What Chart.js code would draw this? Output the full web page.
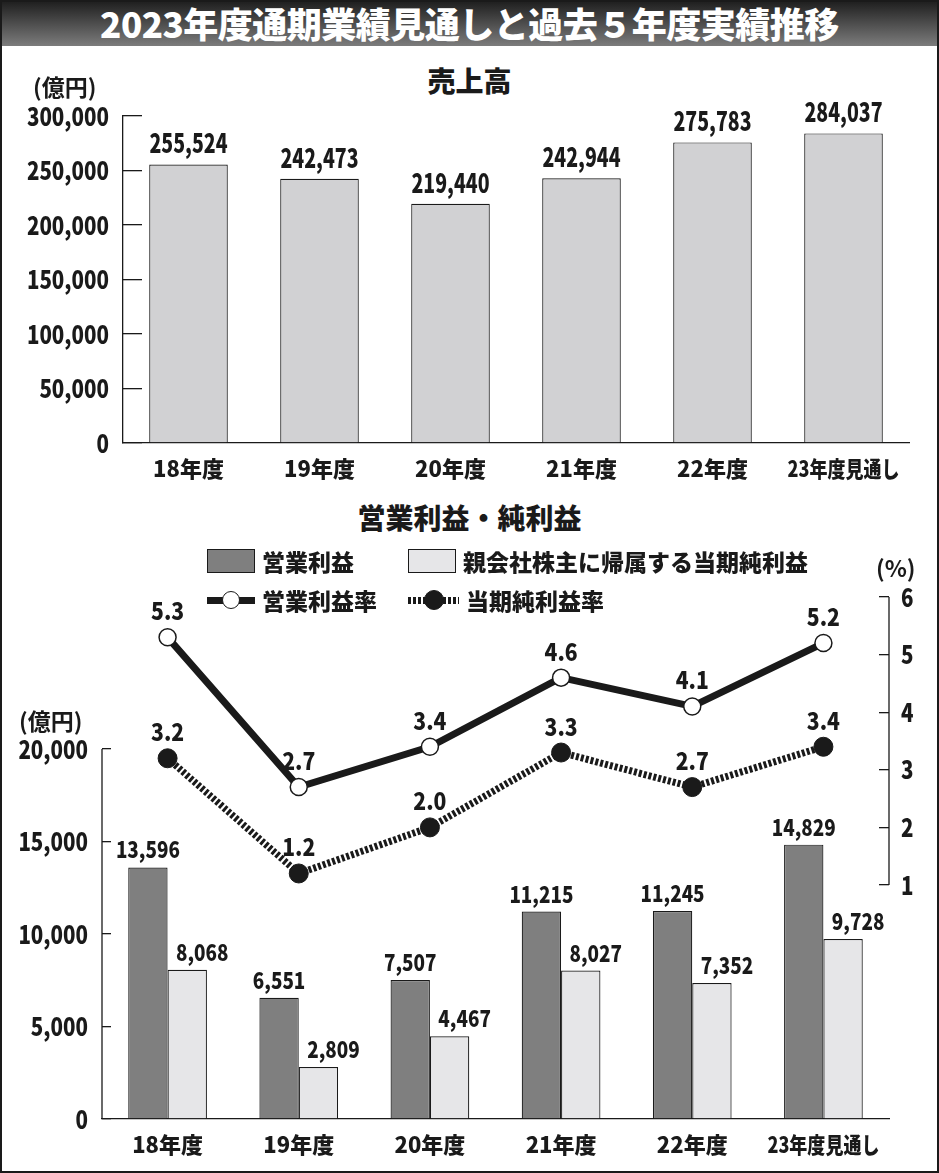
<!DOCTYPE html>
<html lang="ja">
<head>
<meta charset="utf-8">
<title>2023年度通期業績見通しと過去５年度実績推移</title>
<script src="https://cdn.jsdelivr.net/npm/chart.js@4.4.1/dist/chart.umd.min.js"></script>
<style>
  html, body { margin: 0; padding: 0; background: #fff; }
  #page { position: relative; width: 939px; height: 1173px; overflow: hidden; background: #fff;
          font-family: 'Noto Sans CJK JP', sans-serif; color: #1a1a1a; }
  #frame { position: absolute; left: 0; top: 0; right: 0; bottom: 0; border: 2px solid #1a1a1a;
           pointer-events: none; z-index: 5; }
  #titleBar { position: absolute; left: 0; top: 0; width: 939px; height: 46px;
              background: linear-gradient(#1c1c1c, #7c7c7c); color: #fff; text-align: center;
              font-size: 35px; font-weight: 900; line-height: 46px; letter-spacing: -0.5px; z-index: 2; }
  .heading { position: absolute; left: 0; width: 939px; text-align: center; font-size: 28px;
             font-weight: 900; line-height: 1; z-index: 2; }
  .unit { position: absolute; font-size: 23px; font-weight: 700; line-height: 1; z-index: 2; }
  .legend-item { position: absolute; height: 24px; display: flex; align-items: center; font-size: 23px;
                 font-weight: 900; white-space: nowrap; z-index: 2; }
  .swatch { box-sizing: border-box; width: 48px; height: 24px; border: 1.2px solid #1a1a1a; margin-right: 7px; }
  .swatch.dark { background: #7f7f7f; }
  .swatch.light { background: #e6e6e8; }
  .lineIcon { position: relative; width: 48px; height: 24px; margin-right: 7px; }
  .lineIcon .stroke { position: absolute; left: 0; right: 0; top: 8.5px; height: 7px; background: #1a1a1a; }
  .lineIcon.dotted { width: 51px; }
  .lineIcon.dotted .stroke { background: repeating-linear-gradient(90deg, #1a1a1a 0 3px, transparent 3px 5px); }
  .lineIcon .dot { position: absolute; box-sizing: border-box; left: 50%; top: 50%; width: 18px; height: 18px;
                   margin: -9px 0 0 -9px; border-radius: 50%; border: 1.5px solid #1a1a1a; background: #fff; }
  .lineIcon.dotted .dot { background: #1a1a1a; width: 20px; height: 20px; margin: -10px 0 0 -10px; }
  canvas { position: absolute; left: 0; z-index: 1; }
</style>
</head>
<body>
<div id="page">
  <div id="titleBar">2023年度通期業績見通しと過去５年度実績推移</div>

  <div class="heading" style="top:66px">売上高</div>
  <div class="unit" style="left:33px;top:75px">(億円)</div>
  <canvas id="salesChart" width="939" height="390" style="top:100px"></canvas>

  <div class="heading" style="top:503px">営業利益・純利益</div>
  <div class="legend-item" style="left:207px;top:549px"><span class="swatch dark"></span>営業利益</div>
  <div class="legend-item" style="left:408px;top:549px"><span class="swatch light"></span>親会社株主に帰属する当期純利益</div>
  <div class="legend-item" style="left:207px;top:588px"><span class="lineIcon"><span class="stroke"></span><span class="dot"></span></span>営業利益率</div>
  <div class="legend-item" style="left:408px;top:588px"><span class="lineIcon dotted"><span class="stroke"></span><span class="dot"></span></span>当期純利益率</div>
  <div class="unit" style="left:876px;top:556px">(%)</div>
  <div class="unit" style="left:19px;top:709px">(億円)</div>
  <canvas id="profitChart" width="939" height="600" style="top:570px"></canvas>

  <div id="frame"></div>
</div>

<script>
// ---- data ----
const years = ['18年度', '19年度', '20年度', '21年度', '22年度', '23年度見通し'];
const salesValues = [255524, 242473, 219440, 242944, 275783, 284037];
const salesTicks = [0, 50000, 100000, 150000, 200000, 250000, 300000];

const opProfit = [13596, 6551, 7507, 11215, 11245, 14829];
const netProfit = [8068, 2809, 4467, 8027, 7352, 9728];
const profitTicks = [0, 5000, 10000, 15000, 20000];

const opMargin = [5.3, 2.7, 3.4, 4.6, 4.1, 5.2];
const netMargin = [3.2, 1.2, 2.0, 3.3, 2.7, 3.4];
const marginTicks = [1, 2, 3, 4, 5, 6];

// ---- look ----
const INK = '#1a1a1a';
const HIDDEN = 'rgba(0,0,0,0)';
const JP_FONT = "'Noto Sans CJK JP', sans-serif";
const NUM_FONT = JP_FONT;

// lower chart: yen axis only goes up to 20,000, % axis sits in the upper part
// (area is 522px tall, 20,000 sits 370px up, 1%..6% spans 288px ending 234px above the base)
const PROFIT_MAX = 20000 * 522 / 370;
const RATE_MIN = 1 - 234 / (288 / 5);

const fmtYen = v => Number(v).toLocaleString('en-US');

// squeeze text horizontally around its anchor (the paper uses a condensed face)
function drawNarrow(ctx, text, x, y, squeeze) {
    ctx.save();
    ctx.translate(x, y);
    ctx.scale(squeeze, 1);
    ctx.fillText(text, 0, 0);
    ctx.restore();
}

/**
 * Draws the value above every bar / point of datasets that carry a valueLabel setting
 */
const valueLabels = {
    id: 'valueLabels',
    afterDatasetsDraw(chart) {
        const ctx = chart.ctx;
        chart.data.datasets.forEach((ds, i) => {
            const lab = ds.valueLabel;
            if (!lab) return;
            const meta = chart.getDatasetMeta(i);
            ctx.save();
            ctx.font = lab.font;
            ctx.fillStyle = INK;
            ctx.textAlign = 'center';
            ctx.textBaseline = 'alphabetic';
            meta.data.forEach((el, j) => {
                drawNarrow(ctx, lab.format(ds.data[j]), el.x + (lab.dx || 0), el.y - lab.gap, lab.squeeze);
            });
            ctx.restore();
        });
    }
};

/**
 * Re-draws tick labels (left invisible by Chart.js) in a narrow face,
 * long labels are squeezed further to fit maxWidth
 */
const narrowTicks = {
    id: 'narrowTicks',
    afterDraw(chart, args, opts) {
        const ctx = chart.ctx;
        (opts.scales || []).forEach(cfg => {
            const scale = chart.scales[cfg.id];
            scale.getLabelItems().forEach(item => {
                const o = item.options;
                ctx.save();
                ctx.font = item.font.string;
                ctx.fillStyle = INK;
                ctx.textAlign = o.textAlign;
                ctx.textBaseline = o.textBaseline;
                let squeeze = cfg.squeeze;
                if (cfg.maxWidth) {
                    squeeze = Math.min(squeeze, cfg.maxWidth / ctx.measureText(item.label).width);
                }
                drawNarrow(ctx, item.label, o.translation[0], o.translation[1] + (item.textOffset || 0), squeeze);
                ctx.restore();
            });
        });
    }
};

/**
 * Axis lines that only cover part of a scale
 */
const axisSpans = {
    id: 'axisSpans',
    afterDraw(chart, args, opts) {
        const ctx = chart.ctx;
        (opts.spans || []).forEach(s => {
            const scale = chart.scales[s.id];
            const x = s.side === 'left' ? scale.right : scale.left;
            ctx.save();
            ctx.strokeStyle = INK;
            ctx.lineWidth = 1.3;
            ctx.beginPath();
            ctx.moveTo(x, scale.getPixelForValue(s.from));
            ctx.lineTo(x, scale.getPixelForValue(s.to));
            ctx.stroke();
            ctx.restore();
        });
    }
};

// keep the plot area where the layout wants it: no extra room for tick label overhang
function fixWidth(w) {
    return s => { s.width = w; s.paddingTop = 0; s.paddingBottom = 0; };
}
function fixHeight(h) {
    return s => { s.height = h; s.paddingLeft = 0; s.paddingRight = 0; };
}

const xTicks = {
    color: HIDDEN, padding: 12, maxRotation: 0, minRotation: 0, autoSkip: false,
    font: { family: JP_FONT, size: 22, weight: '900' }
};
const yTickFont = { family: NUM_FONT, size: 25, weight: '900' };

function initializeSalesChart() {
    const ctx = document.getElementById('salesChart');
    new Chart(ctx, {
        type: 'bar',
        data: {
            labels: years,
            datasets: [{
                label: '売上高',
                data: salesValues,
                backgroundColor: '#d1d1d3',
                borderColor: INK,
                borderWidth: 1.2,
                barPercentage: 0.6,
                categoryPercentage: 1,
                valueLabel: { font: `900 26px ${NUM_FONT}`, gap: 11, squeeze: 0.75, format: fmtYen }
            }]
        },
        options: {
            responsive: false,
            animation: false,
            layout: { padding: { top: 16, right: 30, left: 0, bottom: 0 } },
            plugins: {
                legend: { display: false },
                tooltip: { enabled: false },
                narrowTicks: { scales: [{ id: 'y', squeeze: 0.82 }, { id: 'x', squeeze: 1, maxWidth: 112 }] }
            },
            scales: {
                x: {
                    grid: { display: false, drawTicks: false },
                    border: { color: INK, width: 1.3 },
                    ticks: xTicks,
                    afterFit: fixHeight(47)
                },
                y: {
                    min: 0,
                    max: 300000,
                    afterBuildTicks: s => { s.ticks = salesTicks.map(v => ({ value: v })); },
                    grid: { drawOnChartArea: false, color: INK, lineWidth: 1.3, tickLength: -19 },
                    border: { color: INK, width: 1.3 },
                    ticks: { color: HIDDEN, padding: 33, font: yTickFont, callback: fmtYen },
                    afterFit: fixWidth(123)
                }
            }
        },
        plugins: [valueLabels, narrowTicks]
    });
}

function initializeProfitChart() {
    const ctx = document.getElementById('profitChart');
    new Chart(ctx, {
        type: 'bar',
        data: {
            labels: years,
            datasets: [
                {
                    type: 'line',
                    label: '営業利益率',
                    data: opMargin,
                    yAxisID: 'yRate',
                    order: 0,
                    borderColor: INK,
                    borderWidth: 7,
                    tension: 0,
                    pointRadius: 8.5,
                    pointBackgroundColor: '#fff',
                    pointBorderColor: INK,
                    pointBorderWidth: 1.5,
                    clip: false,
                    valueLabel: { font: `900 24px ${NUM_FONT}`, gap: 17, squeeze: 0.88, format: v => v.toFixed(1) }
                },
                {
                    type: 'line',
                    label: '当期純利益率',
                    data: netMargin,
                    yAxisID: 'yRate',
                    order: 0,
                    borderColor: INK,
                    borderWidth: 7,
                    borderDash: [3, 2],
                    tension: 0,
                    pointRadius: 9.5,
                    pointBackgroundColor: INK,
                    pointBorderColor: INK,
                    pointBorderWidth: 1,
                    clip: false,
                    valueLabel: { font: `900 24px ${NUM_FONT}`, gap: 17, squeeze: 0.88, format: v => v.toFixed(1) }
                },
                {
                    label: '営業利益',
                    data: opProfit,
                    yAxisID: 'yYen',
                    order: 1,
                    backgroundColor: '#7f7f7f',
                    borderColor: INK,
                    borderWidth: 1.2,
                    barPercentage: 1,
                    categoryPercentage: 0.6,
                    valueLabel: { font: `900 23px ${NUM_FONT}`, gap: 9, squeeze: 0.82, format: fmtYen }
                },
                {
                    label: '親会社株主に帰属する当期純利益',
                    data: netProfit,
                    yAxisID: 'yYen',
                    order: 1,
                    backgroundColor: '#e6e6e8',
                    borderColor: INK,
                    borderWidth: 1.2,
                    barPercentage: 1,
                    categoryPercentage: 0.6,
                    valueLabel: { font: `900 23px ${NUM_FONT}`, gap: 9, dx: 15, squeeze: 0.82, format: fmtYen }
                }
            ]
        },
        options: {
            responsive: false,
            animation: false,
            layout: { padding: { top: 27, right: 0, left: 0, bottom: 0 } },
            plugins: {
                legend: { display: false },
                tooltip: { enabled: false },
                narrowTicks: {
                    scales: [
                        { id: 'yYen', squeeze: 0.82 },
                        { id: 'yRate', squeeze: 0.82 },
                        { id: 'x', squeeze: 1, maxWidth: 112 }
                    ]
                },
                axisSpans: {
                    spans: [
                        { id: 'yYen', side: 'left', from: 0, to: 20000 },
                        { id: 'yRate', side: 'right', from: 1, to: 6 }
                    ]
                }
            },
            scales: {
                x: {
                    grid: { display: false, drawTicks: false },
                    border: { color: INK, width: 1.3 },
                    ticks: xTicks,
                    afterFit: fixHeight(51)
                },
                yYen: {
                    position: 'left',
                    min: 0,
                    max: PROFIT_MAX,
                    afterBuildTicks: s => { s.ticks = profitTicks.map(v => ({ value: v })); },
                    grid: { drawOnChartArea: false, color: INK, lineWidth: 1.3, tickLength: -9 },
                    border: { display: false },
                    ticks: { color: HIDDEN, padding: 23, font: yTickFont, callback: fmtYen },
                    afterFit: fixWidth(102)
                },
                yRate: {
                    position: 'right',
                    min: RATE_MIN,
                    max: 6,
                    afterBuildTicks: s => { s.ticks = marginTicks.map(v => ({ value: v })); },
                    grid: { drawOnChartArea: false, color: INK, lineWidth: 1.3, tickLength: -10 },
                    border: { display: false },
                    ticks: { color: HIDDEN, padding: 22, font: yTickFont },
                    afterFit: fixWidth(50)
                }
            }
        },
        plugins: [valueLabels, narrowTicks, axisSpans]
    });
}

initializeSalesChart();
initializeProfitChart();
</script>
</body>
</html>
